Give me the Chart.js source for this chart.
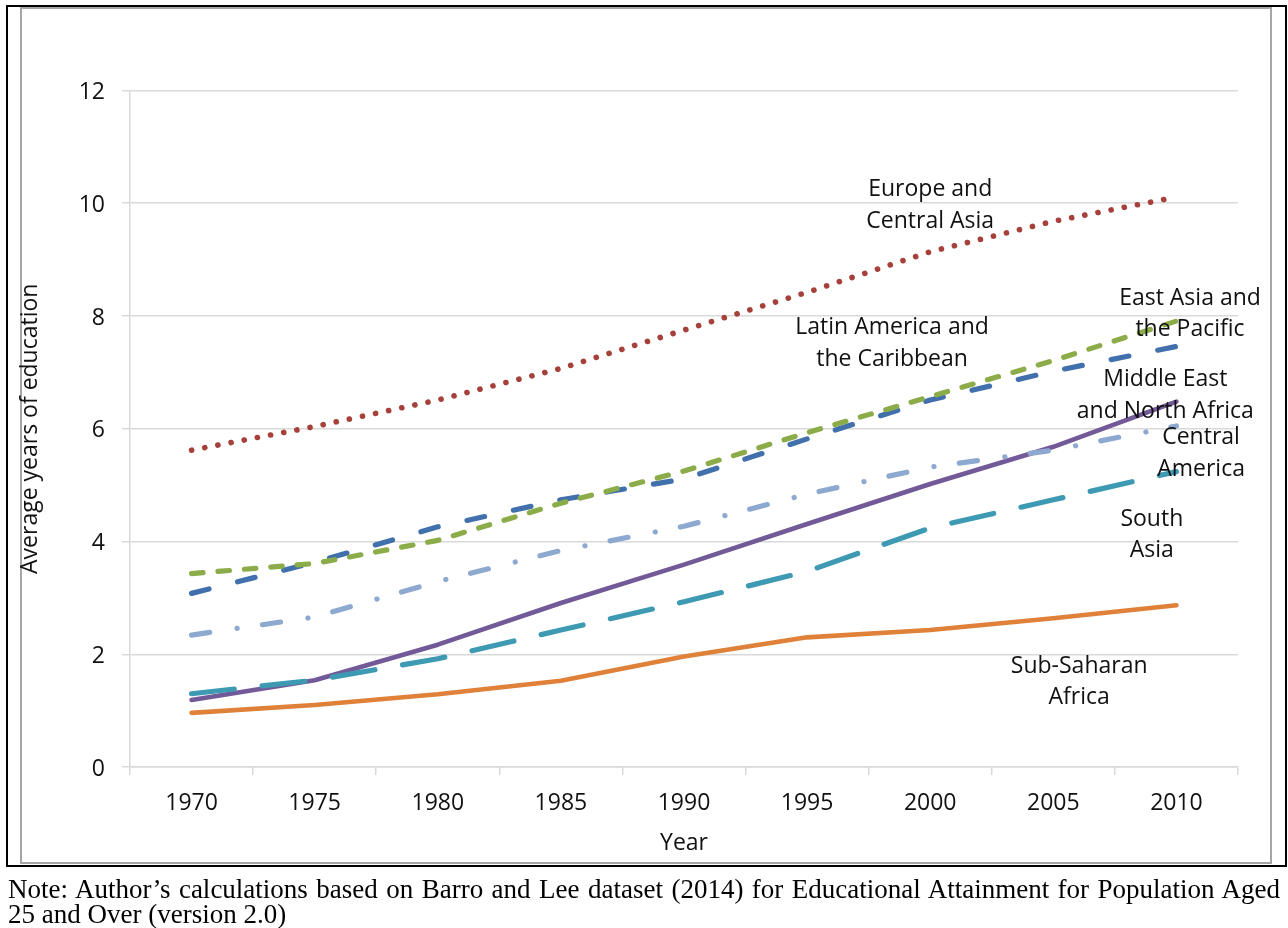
<!DOCTYPE html>
<html>
<head>
<meta charset="utf-8">
<script src="https://cdn.jsdelivr.net/npm/chart.js@4/dist/chart.umd.min.js"></script>
<style>
  html, body { margin: 0; padding: 0; background: #fff; }
  body { width: 1288px; height: 928px; position: relative; overflow: hidden; }
  #outerFrame { position: absolute; left: 6px; top: 5px; width: 1281px; height: 862px;
                border: 2px solid #000; box-sizing: border-box; }
  #chartFrame { position: absolute; left: 20px; top: 7px; width: 1252px; height: 857px;
                border: 2px solid #a6a6a6; box-sizing: border-box; }
  #chart { position: absolute; left: 0; top: 0; }
  #note { position: absolute; left: 8px; top: 877px; width: 1272px;
          font-family: 'Liberation Serif', 'Times New Roman', serif; font-size: 27px;
          line-height: 25px; color: #000; }
  #note .l1 { text-align: justify; text-align-last: justify; white-space: nowrap; }
</style>
</head>
<body>
<div id="outerFrame"></div>
<div id="chartFrame"></div>
<canvas id="chart" width="1288" height="928"></canvas>
<div id="note">
  <div class="l1">Note: Author’s calculations based on Barro and Lee dataset (2014) for Educational Attainment for Population Aged</div>
  <div>25 and Over (version 2.0)</div>
</div>
<script>
// Survey years (category axis)
const years = ['1970', '1975', '1980', '1985', '1990', '1995', '2000', '2005', '2010'];

// Average years of education by region
const europeCentralAsia   = [5.62, 6.04, 6.51, 7.07, 7.75, 8.42, 9.14, 9.68, 10.11];
const eastAsiaPacific     = [3.43, 3.61, 4.02, 4.68, 5.25, 5.93, 6.57, 7.21, 7.91];
const latinAmerica        = [3.08, 3.63, 4.26, 4.74, 5.11, 5.82, 6.51, 7.02, 7.46];
const middleEastNAfrica   = [1.19, 1.54, 2.17, 2.91, 3.59, 4.31, 5.02, 5.68, 6.48];
const centralAmerica      = [2.34, 2.66, 3.29, 3.84, 4.27, 4.84, 5.32, 5.62, 6.05];
const southAsia           = [1.30, 1.54, 1.92, 2.43, 2.93, 3.47, 4.24, 4.74, 5.24];
const subSaharanAfrica    = [0.96, 1.10, 1.29, 1.53, 1.96, 2.30, 2.43, 2.64, 2.87];

// Region names written next to the lines
const regionLabels = [
  { lines: ['Europe and', 'Central Asia'],          at: [6.00, 10.00] },
  { lines: ['Latin America and', 'the Caribbean'],  at: [5.69, 7.55] },
  { lines: ['East Asia and', 'the Pacific'],        at: [8.11, 8.07] },
  { lines: ['Middle East', 'and North Africa'],     at: [7.91, 6.63] },
  { lines: ['Central', 'America'],                  at: [8.20, 5.60] },
  { lines: ['South', 'Asia'],                       at: [7.80, 4.15] },
  { lines: ['Sub-Saharan', 'Africa'],               at: [7.21, 1.54] }
];

const FONT = { family: "'Open Sans', 'Noto Sans', sans-serif", size: 23 };
const INK = '#111';
const GRID = '#d9d9d9';

const regionLabelPlugin = {
  id: 'regionLabels',
  afterDatasetsDraw(chart) {
    const { ctx, scales: { x, y } } = chart;
    ctx.save();
    ctx.font = `${FONT.size}px ${FONT.family}`;
    ctx.fillStyle = INK;
    ctx.textAlign = 'center';
    ctx.textBaseline = 'middle';
    const lh = 31.5;
    regionLabels.forEach(lbl => {
      const cx = x.getPixelForValue(lbl.at[0]);
      const cy = y.getPixelForValue(lbl.at[1]) + 2;
      const n = lbl.lines.length;
      lbl.lines.forEach((t, i) => {
        ctx.fillText(t, cx, cy + (i - (n - 1) / 2) * lh);
      });
    });
    ctx.restore();
  }
};

const line = (label, data, color, width, dash) => ({
  label, data,
  borderColor: color,
  backgroundColor: color,
  borderWidth: width,
  borderDash: dash,
  borderCapStyle: 'round',
  borderJoinStyle: 'round',
  pointRadius: 0,
  fill: false,
  tension: 0
});

new Chart(document.getElementById('chart'), {
  type: 'line',
  data: {
    labels: years,
    datasets: [
      line('East Asia and the Pacific', eastAsiaPacific, '#8cac49', 5.2, [11.5, 15]),
      line('Latin America and the Caribbean', latinAmerica, '#4170ad', 5.2, [18, 29.5]),
      line('Central America', centralAmerica, '#8ea9d0', 5.2, [18.3, 27.7, 0.1, 25.5]),
      line('South Asia', southAsia, '#3d9ab2', 5.2, [43, 28]),
      line('Middle East and North Africa', middleEastNAfrica, '#725997', 4.6, []),
      line('Sub-Saharan Africa', subSaharanAfrica, '#df8139', 4.6, []),
      line('Europe and Central Asia', europeCentralAsia, '#a5403b', 5.6, [0.1, 13.3])
    ]
  },
  options: {
    responsive: false,
    animation: false,
    layout: { padding: { left: 0, top: 90.5, right: 50, bottom: 68 } },
    plugins: { legend: { display: false }, tooltip: { enabled: false } },
    scales: {
      x: {
        type: 'category',
        offset: true,
        grid: { offset: true, drawOnChartArea: false, drawTicks: true, tickLength: 8, color: GRID, lineWidth: 1.5 },
        border: { color: GRID, width: 1.5 },
        ticks: { font: FONT, color: INK, padding: 15, maxRotation: 0, autoSkip: false },
        title: { display: true, text: 'Year', font: FONT, color: INK, padding: { top: 0, bottom: 3 } },
        afterFit: s => { s.height = 93; }
      },
      y: {
        min: 0, max: 12,
        ticks: { stepSize: 2, padding: 17, labelOffset: 2, font: FONT, color: INK },
        grid: { color: GRID, lineWidth: 1.5, tickLength: 8 },
        border: { color: GRID, width: 1.5 },
        title: { display: true, text: 'Average years of education', font: FONT, color: INK, padding: { top: 17, bottom: 0 } },
        afterFit: s => { s.width = 130; }
      }
    }
  },
  plugins: [regionLabelPlugin]
});
</script>
</body>
</html>
